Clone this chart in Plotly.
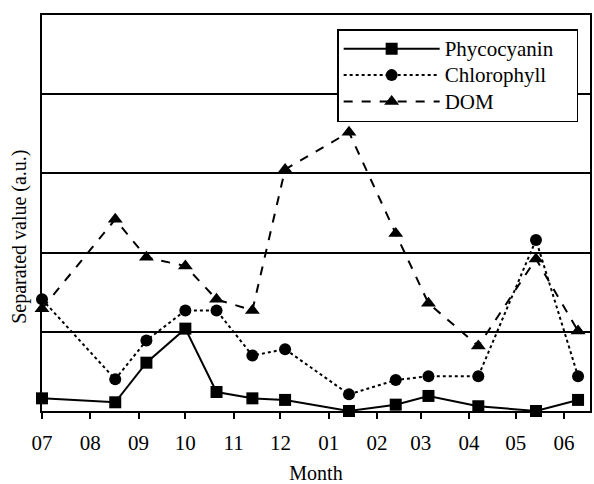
import plotly.graph_objects as go

dates = ["2010-07-01", "2010-08-17", "2010-09-06", "2010-10-01", "2010-10-21",
         "2010-11-13", "2010-12-04", "2011-01-14", "2011-02-13", "2011-03-06",
         "2011-04-07", "2011-05-14", "2011-06-10"]
phycocyanin = [0.16, 0.11, 0.61, 1.04, 0.24, 0.16, 0.14, 0.0, 0.08, 0.19, 0.06, 0.0, 0.14]
chlorophyll = [1.41, 0.40, 0.89, 1.27, 1.27, 0.70, 0.78, 0.21, 0.39, 0.44, 0.44, 2.16, 0.44]
dom = [1.29, 2.42, 1.94, 1.83, 1.41, 1.27, 3.05, 3.52, 2.24, 1.36, 0.82, 1.92, 1.01]

series_names = ["Phycocyanin", "Chlorophyll", "DOM"]
x_title = "Month"
y_title = "Separated value (a.u.)"

FONT = "Liberation Serif"


def legend_label(name):
    # larger glyphs than the legend's row spacing font, plus trailing padding inside the box
    return "<span style='font-size:21px'>" + name + "</span>" + "&nbsp;" * 4


fig = go.Figure()
fig.add_trace(go.Scatter(x=dates, y=phycocyanin, name=legend_label(series_names[0]), mode="lines+markers",
                         line=dict(color="black", width=2, dash="solid"),
                         marker=dict(symbol="square", size=12, color="black"),
                         cliponaxis=False))
fig.add_trace(go.Scatter(x=dates, y=chlorophyll, name=legend_label(series_names[1]), mode="lines+markers",
                         line=dict(color="black", width=2, dash="dot"),
                         marker=dict(symbol="circle", size=12, color="black"),
                         cliponaxis=False))
fig.add_trace(go.Scatter(x=dates, y=dom, name=legend_label(series_names[2]), mode="lines+markers",
                         line=dict(color="black", width=2, dash="dash"),
                         marker=dict(symbol="triangle-up", size=13, color="black"),
                         cliponaxis=False))

fig.add_annotation(text=y_title, textangle=-90, xref="paper", yref="paper",
                   x=-0.04, y=0.44, xanchor="center", yanchor="middle", showarrow=False,
                   font=dict(family=FONT, size=20, color="black"))

fig.update_layout(
    width=594, height=484,
    margin=dict(l=42, r=4, t=15, b=73, autoexpand=False),
    paper_bgcolor="white", plot_bgcolor="white",
    font=dict(family=FONT, size=20, color="black"),
    showlegend=True,
    legend=dict(x=0.5386, y=0.9646, xanchor="left", yanchor="top",
                bordercolor="black", borderwidth=1.5, bgcolor="white",
                font=dict(family=FONT, size=18, color="black"),
                itemwidth=96, tracegroupgap=0),
    xaxis=dict(
        type="date", automargin=False,
        range=["2010-07-01", "2011-06-17 16:00"],
        tick0="2010-07-01", dtick="M1", tickformat="%m",
        ticks="outside", ticklen=6, tickwidth=1.5, tickcolor="black",
        ticklabelstandoff=6,
        showline=True, linecolor="black", linewidth=2, mirror=True,
        showgrid=False, zeroline=False,
        tickfont=dict(family=FONT, size=21, color="black"),
        title=dict(text=x_title, font=dict(family=FONT, size=20, color="black"), standoff=20),
    ),
    yaxis=dict(
        range=[0, 5], dtick=1, automargin=False,
        showticklabels=False, ticks="",
        showline=True, linecolor="black", linewidth=2, mirror=True,
        showgrid=True, gridcolor="black", gridwidth=1.5, zeroline=False,
    ),
)

fig.write_html("out.html", config={"displayModeBar": False},
               post_script="document.body.style.margin='0';")
